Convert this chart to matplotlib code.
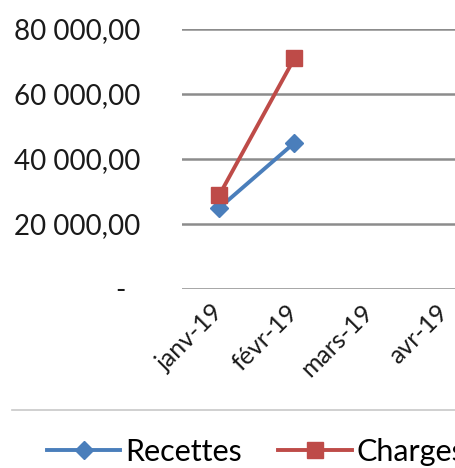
"""Recettes / Charges line chart (Excel style, cropped)."""

import matplotlib

matplotlib.use("Agg")
import matplotlib.pyplot as plt
from matplotlib.lines import Line2D
from matplotlib.ticker import FuncFormatter

months = ["janv-19", "févr-19", "mars-19", "avr-19"]
recettes = [25000, 45000]
charges = [29000, 71000]
y_ticks = [0, 20000, 40000, 60000, 80000]

BLUE = "#4A7EBB"
RED = "#BE4B48"
GRID = "#8C8C8C"

plt.rcParams["font.family"] = ["Lato", "DejaVu Sans"]


def fr_money(value, _pos):
    # Excel accounting style: zero shown as a dash
    if value == 0:
        return "-  "
    return f"{value:,.2f}".replace(",", " ").replace(".", ",")


fig = plt.figure(figsize=(4.56, 4.68), dpi=100)
ax = fig.add_axes([0.399, 0.3825, 0.658, 0.5555])

x = list(range(len(months)))
ax.plot(x[: len(recettes)], recettes, color=BLUE, lw=2.8, marker="D",
        markersize=9, label="Recettes", zorder=3)
ax.plot(x[: len(charges)], charges, color=RED, lw=2.8, marker="s",
        markersize=12, label="Charges", zorder=3)

ax.set_xlim(-0.5, len(months) - 0.5)
ax.set_ylim(0, 80000)
ax.set_yticks(y_ticks)
ax.yaxis.set_major_formatter(FuncFormatter(fr_money))
ax.grid(axis="y", color=GRID, lw=1.8)
ax.set_axisbelow(True)
for spine in ax.spines.values():
    spine.set_visible(False)
ax.tick_params(axis="y", length=0, pad=30, labelsize=20, colors="#1a1a1a")
ax.tick_params(axis="x", length=0, pad=14, labelsize=18, colors="#1a1a1a")
ax.set_xticks(x)
ax.set_xticklabels(months, rotation=45, ha="right", va="center",
                   rotation_mode="anchor")

# light separator line above the legend
fig.add_artist(Line2D([12 / 456, 1], [1 - 410 / 468] * 2, color="#C8C8C8",
                      lw=1.2, transform=fig.transFigure))

fig.legend(*ax.get_legend_handles_labels(), loc="center left",
           bbox_to_anchor=(47 / 456, 1 - 452 / 468), ncol=2, frameon=False,
           fontsize=22, handlelength=2.4, handletextpad=0.15,
           columnspacing=1.2, borderaxespad=0, borderpad=0)

fig.savefig("out.png", dpi=100)
